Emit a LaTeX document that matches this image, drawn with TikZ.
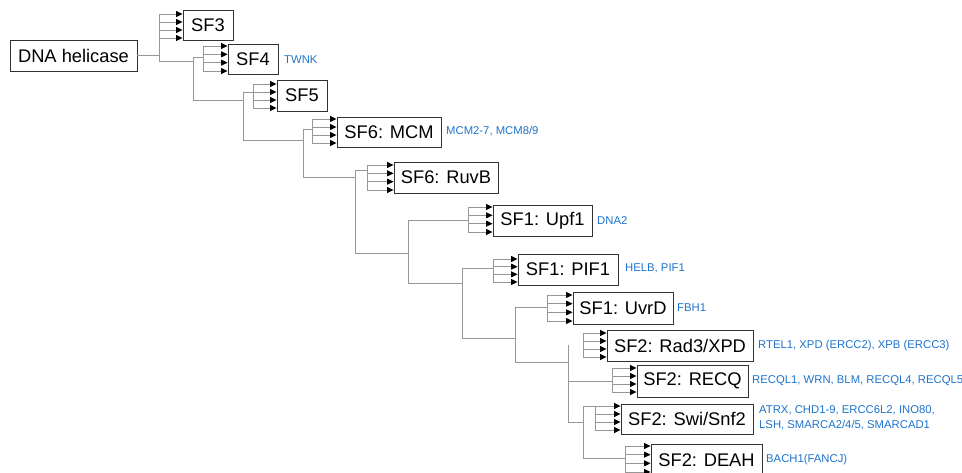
\documentclass[tikz,border=0pt]{standalone}
\usepackage{fontspec}
\setmainfont{Liberation Sans}
\usetikzlibrary{arrows.meta}
\definecolor{linegray}{RGB}{150,150,150}
\definecolor{genblue}{RGB}{28,115,205}
\definecolor{boxline}{RGB}{50,50,50}

% box of a helicase family: name, left, top, right, bottom, text
\newcommand\famnode[6]{%
  \node[fam, minimum width={#4-#2}, minimum height={#5-#3}] (#1)
    at ({(#2+#4)/2},{(#3+#5)/2}) {#6};}
% vertical bar with four arrows into a family box: name, bar x, top y, bottom y
\newcommand\fanin[4]{%
  \coordinate (#1-bt) at (#2,#3);
  \coordinate (#1-bb) at (#2,#4);
  \draw[tree] (#1-bt) -- (#1-bb);
  \foreach \k in {0,1,2,3}{%
    \pgfmathsetmacro\yy{#3+\k*(#4-#3)/3}
    \draw[fan] (#2,\yy) -- (#1.west |- 0,\yy);
  }}

\begin{document}
\begin{tikzpicture}[x=1pt,y=-1pt,
  fam/.style={draw=boxline, line width=0.9pt, inner sep=0pt,
    font=\fontsize{18.3}{20}\selectfont},
  tree/.style={draw=linegray, line width=0.9pt},
  fan/.style={draw=linegray, line width=0.9pt,
    -{Triangle[length=6.5pt,width=6pt,color=black]}},
  gene/.style={text=genblue, font=\fontsize{11.3}{14.5}\selectfont,
    anchor=west, inner sep=0pt, align=left}]
\useasboundingbox (0,0) rectangle (962,473);

% family boxes
\famnode{root}{10}{40}{137}{71}{DNA helicase}
\famnode{sf3}{183}{10}{233}{40}{SF3}
\famnode{sf4}{228}{44}{278}{74}{SF4}
\famnode{sf5}{277}{80}{327}{111}{SF5}
\famnode{mcm}{337}{117}{441}{147}{SF6: MCM}
\famnode{ruvb}{394}{162}{498}{193}{SF6: RuvB}
\famnode{upf}{493}{205}{592}{236}{SF1: Upf1}
\famnode{pif}{518}{254}{618}{285}{SF1: PIF1}
\famnode{uvrd}{573}{292}{673}{324}{SF1: UvrD}
\famnode{rad}{607}{330}{753}{361}{SF2: Rad3/XPD}
\famnode{recq}{637}{365}{748}{397}{SF2: RECQ}
\famnode{swi}{621}{404}{753}{434}{SF2: Swi/Snf2}
\famnode{deah}{651}{444}{762}{476}{SF2: DEAH}

% arrow fans into each box
\fanin{sf3}{159}{14}{38}
\fanin{sf4}{203}{46}{71}
\fanin{sf5}{253}{84}{108}
\fanin{mcm}{312}{119}{143}
\fanin{ruvb}{367}{165}{190}
\fanin{upf}{468}{207}{232}
\fanin{pif}{493}{259}{282}
\fanin{uvrd}{547}{295}{321}
\fanin{rad}{583}{333}{357}
\fanin{recq}{612}{368}{392}
\fanin{swi}{595}{406}{430}
\fanin{deah}{625}{446}{472}

% branching tree
\coordinate (v1t) at (159,14);  \coordinate (v1b) at (159,61);
\coordinate (v2t) at (193,57);  \coordinate (v2b) at (193,100);
\coordinate (v3t) at (243,92);  \coordinate (v3b) at (243,140);
\coordinate (v4t) at (303,129); \coordinate (v4b) at (303,177);
\coordinate (v5t) at (355,170); \coordinate (v5b) at (355,253);
\coordinate (v6t) at (408,220); \coordinate (v6b) at (408,283);
\coordinate (v7t) at (462,268); \coordinate (v7b) at (462,338);
\coordinate (v8t) at (515,307); \coordinate (v8b) at (515,362);
\coordinate (v9t) at (568,345); \coordinate (v9m) at (568,381);
\coordinate (v9b) at (568,422);
\coordinate (v10t) at (583,406); \coordinate (v10b) at (583,458);

\draw[tree] (root.east) -- (root.east -| v1t);
\draw[tree] (v1t) -- (v1b) -- (v1b -| v2t);
\draw[tree] (v2t) -- (v2b) -- (v2b -| v3t);
\draw[tree] (v2t) -- (v2t -| sf4-bt);
\draw[tree] (v3t) -- (v3b) -- (v3b -| v4t);
\draw[tree] (v3t) -- (v3t -| sf5-bt);
\draw[tree] (v4t) -- (v4b) -- (v4b -| v5t);
\draw[tree] (v4t) -- (v4t -| mcm-bt);
\draw[tree] (v5t) -- (v5b) -- (v5b -| v6t);
\draw[tree] (v5t) -- (v5t -| ruvb-bt);
\draw[tree] (v6t) -- (v6b) -- (v6b -| v7t);
\draw[tree] (v6t) -- (v6t -| upf-bt);
\draw[tree] (v7t) -- (v7b) -- (v7b -| v8t);
\draw[tree] (v7t) -- (v7t -| pif-bt);
\draw[tree] (v8t) -- (v8b) -- (v8b -| v9t);
\draw[tree] (v8t) -- (v8t -| uvrd-bt);
\draw[tree] (v9t) -- (v9b) -- (v9b -| v10t);
\draw[tree] (v9m) -- (v9m -| recq-bt);
\draw[tree] (v10t) -- (v10b) -- (v10b -| deah-bt);
\draw[tree] (v10t) -- (v10t -| swi-bt);

% human members of each family
\node[gene] (g4)   at (284,60)  {TWNK};
\node[gene] (g6)   at (446,131) {MCM2-7, MCM8/9};
\node[gene] (gupf) at (597,221) {DNA2};
\node[gene] (gpif) at (625,268) {HELB, PIF1};
\node[gene] (guvr) at (677,308) {FBH1};
\node[gene] (grad) at (758,346) {RTEL1, XPD (ERCC2), XPB (ERCC3)};
\node[gene] (grec) at (752,381) {RECQL1, WRN, BLM, RECQL4, RECQL5};
\node[gene] (gswi) at (759,418) {ATRX, CHD1-9, ERCC6L2, INO80,\\LSH, SMARCA2/4/5, SMARCAD1};
\node[gene] (gdea) at (766,460) {BACH1(FANCJ)};
\end{tikzpicture}
\end{document}
